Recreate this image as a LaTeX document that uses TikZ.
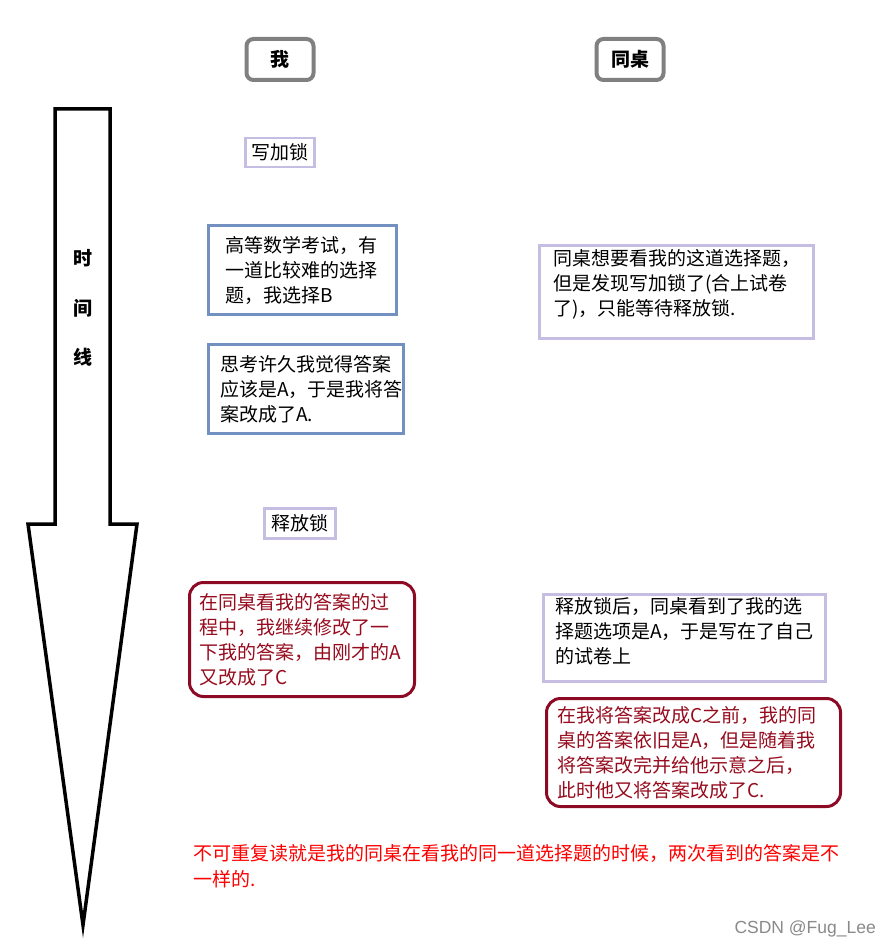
\documentclass[tikz,border=0pt]{standalone}
\usepackage{xcolor}
\usepackage{tikz}
\usetikzlibrary{positioning}
\usepackage{fontspec}
\setmainfont{Noto Sans CJK SC}
\newfontfamily\markfont{Liberation Sans}
\definecolor{tlInk}{HTML}{000000}
\definecolor{tlGray}{HTML}{808080}
\definecolor{tlBlue}{HTML}{7391C0}
\definecolor{tlLilac}{HTML}{C6BEE2}
\definecolor{tlWine}{HTML}{8C0A24}
\definecolor{tlWineText}{HTML}{960C1E}
\definecolor{tlRed}{HTML}{FF0000}
\definecolor{tlMark}{HTML}{8A8A8A}
\tikzset{
  % Column header (gray, rounded)
  hbox/.style={rectangle,rounded corners=7pt,line width=4pt,draw=tlGray,
    minimum width=67pt,minimum height=41pt,inner sep=0pt,
    font=\fontsize{19}{25}\selectfont\bfseries,text=tlInk},
  % Lock step (lilac, small)
  lbox/.style={rectangle,line width=2.5pt,draw=tlLilac,
    minimum width=69pt,minimum height=29pt,inner sep=0pt,
    font=\fontsize{19}{25}\selectfont,text=tlInk},
  % My step (blue)
  mbox/.style={rectangle,line width=3pt,draw=tlBlue,align=left,
    inner ysep=0pt,font=\fontsize{19}{25}\selectfont,text=tlInk},
  % Deskmate step (lilac)
  dbox/.style={rectangle,line width=2.5pt,draw=tlLilac,align=left,
    inner ysep=0pt,font=\fontsize{19}{25}\selectfont,text=tlInk},
  % Note (wine, rounded)
  rbox/.style={rectangle,rounded corners=14pt,line width=3pt,draw=tlWine,
    align=left,inner ysep=0pt,font=\fontsize{19}{25}\selectfont,text=tlWineText},
  % Time line
  tarrow/.style={line width=3.5pt,draw=tlInk,line join=miter},
  tlbl/.style={font=\fontsize{19}{25}\selectfont\bfseries,text=tlInk,inner sep=0pt},
}
\begin{document}
\begin{tikzpicture}[x=1pt,y=-1pt]
  \useasboundingbox[fill=white] (0,0) rectangle (887,949);

  % time line
  \draw[tarrow] (55,109) -- (110,109) -- (110,524) -- (137,524) -- (83,925)
    -- (28,524) -- (55,524) -- cycle;
  \node[tlbl] (t1) at (83,258) {时};
  \node[tlbl] (t2) at (83,308) {间};
  \node[tlbl] (t3) at (83,357) {线};

  \node[hbox] (me) at (280,59.5) {我};
  \node[hbox] (mate) at (630,59.5) {同桌};

  \node[lbox] (lock) at (280,152.5) {写加锁};
  \node[mbox,minimum width=188pt,minimum height=89pt,inner xsep=16.5pt,
    text width=155pt] (q1) at (302.5,270)
    {高等数学考试，有\\一道比较难的选择\\题，我选择B};
  \node[mbox,minimum width=195pt,minimum height=89pt,inner xsep=11.5pt,
    text width=172pt] (q2) at (306,389)
    {思考许久我觉得答案\\应该是A，于是我将答\\案改成了A.};
  \node[dbox,minimum width=274pt,minimum height=93pt,inner xsep=13.5pt,
    text width=247pt] (wait) at (676.5,292)
    {同桌想要看我的这道选择题，\\但是发现写加锁了(合上试卷\\了)，只能等待释放锁.\\[-6pt]\mbox{}};

  \node[lbox,minimum width=71pt,minimum height=30pt] (unlock) at (300,523.5) {释放锁};
  \node[rbox,minimum width=225pt,minimum height=114pt,inner xsep=9.5pt,
    text width=206pt] (edit) at (302,639.5)
    {在同桌看我的答案的过\\程中，我继续修改了一\\下我的答案，由刚才的A\\又改成了C};
  \node[dbox,minimum width=282pt,minimum height=87pt,inner xsep=11.5pt,
    text width=259pt] (read) at (684.5,638)
    {释放锁后，同桌看到了我的选\\择题选项是A，于是写在了自己\\的试卷上\\[-10pt]\mbox{}};
  \node[rbox,minimum width=294pt,minimum height=108pt,inner xsep=10.5pt,
    text width=273pt] (reread) at (693.5,752.5)
    {在我将答案改成C之前，我的同\\桌的答案依旧是A，但是随着我\\将答案改完并给他示意之后，\\此时他又将答案改成了C.};

  \node[anchor=north west,inner sep=0pt,align=left,text=tlRed,
    font=\fontsize{19}{26}\selectfont] (sum) at (193,844)
    {不可重复读就是我的同桌在看我的同一道选择题的时候，两次看到的答案是不\\一样的.};
  \node[anchor=east,inner sep=0pt,text=tlMark,font=\markfont\fontsize{17.5}{20}\selectfont]
    (mark) at (876,929) {CSDN @Fug\_Lee};
\end{tikzpicture}
\end{document}
